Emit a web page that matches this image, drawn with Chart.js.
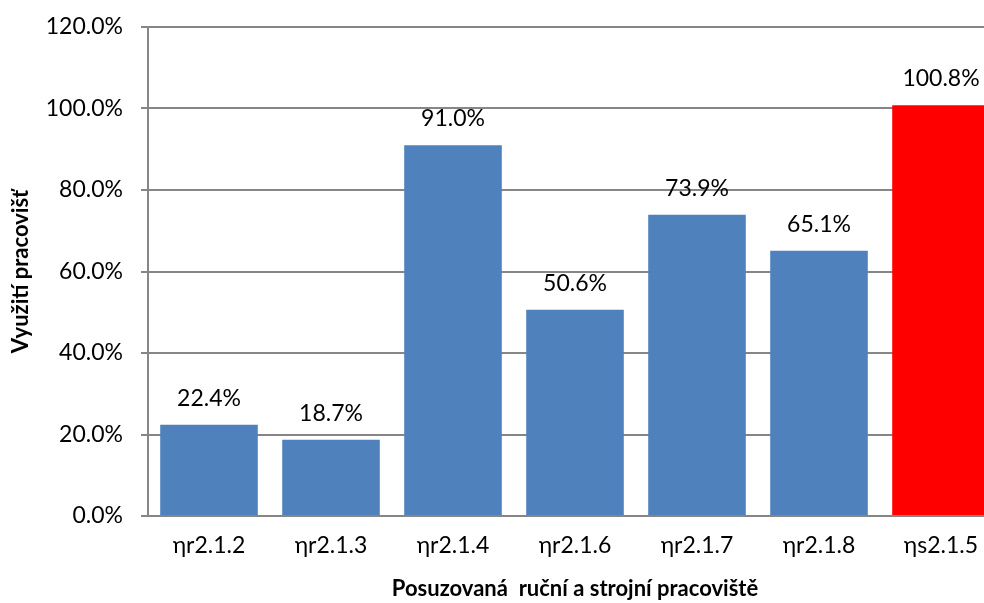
<!DOCTYPE html>
<html>
<head>
<meta charset="utf-8">
<script src="https://cdn.jsdelivr.net/npm/chart.js@4"></script>
<style>
  html, body { margin: 0; padding: 0; background: #fff; overflow: hidden; }
  canvas { display: block; }
</style>
</head>
<body>
<canvas id="myChart" width="1002" height="603"></canvas>
<script>
const categories = ["ηr2.1.2", "ηr2.1.3", "ηr2.1.4", "ηr2.1.6", "ηr2.1.7", "ηr2.1.8", "ηs2.1.5"];
const values = [22.4, 18.7, 91.0, 50.6, 73.9, 65.1, 100.8];
const barColors = ["#4F81BD", "#4F81BD", "#4F81BD", "#4F81BD", "#4F81BD", "#4F81BD", "#FF0000"];

const FONT = "Lato, 'Open Sans', sans-serif";
const ctxBar = document.getElementById("myChart");

// labels above each bar
const valueLabels = {
  id: "valueLabels",
  afterDatasetsDraw(chart) {
    const ctx = chart.ctx;
    const meta = chart.getDatasetMeta(0);
    ctx.save();
    ctx.font = "23px " + FONT;
    ctx.fillStyle = "#000";
    ctx.textAlign = "center";
    ctx.textBaseline = "alphabetic";
    meta.data.forEach((bar, i) => {
      ctx.fillText(values[i].toFixed(1) + "%", bar.x, bar.y - 19);
    });
    ctx.restore();
  },
};

new Chart(ctxBar, {
  type: "bar",
  data: {
    labels: categories,
    datasets: [
      {
        data: values,
        backgroundColor: barColors,
        borderWidth: 0,
        barPercentage: 0.8,
        categoryPercentage: 1,
      },
    ],
  },
  options: {
    responsive: false,
    animation: false,
    layout: { padding: { top: 27, left: 8, right: 0, bottom: 1 } },
    plugins: {
      legend: { display: false },
      tooltip: { enabled: false },
    },
    scales: {
      y: {
        min: 0,
        max: 120,
        afterFit: (scale) => {
          scale.width = 140;
          scale.paddingTop = 0;
          scale.paddingBottom = 0;
        },
        ticks: {
          stepSize: 20,
          padding: 18,
          color: "#000",
          font: { family: FONT, size: 23 },
          callback: (v) => v.toFixed(1) + "%",
        },
        grid: { color: "#868686", lineWidth: 2, tickLength: 7 },
        border: { color: "#868686", width: 2 },
        title: {
          display: true,
          text: "Využití pracovišť",
          color: "#000",
          font: { family: FONT, size: 22, weight: "bold" },
          padding: { top: 0, bottom: 0 },
        },
      },
      x: {
        grid: { display: false, drawTicks: false },
        border: { color: "#868686", width: 2 },
        ticks: {
          padding: 16,
          color: "#000",
          font: { family: FONT, size: 23 },
          maxRotation: 0,
        },
        title: {
          display: true,
          text: "Posuzovaná  ruční a strojní pracoviště",
          color: "#000",
          font: { family: FONT, size: 22, weight: "bold" },
          padding: { top: 0, bottom: 0 },
        },
      },
    },
  },
  plugins: [valueLabels],
});
</script>
</body>
</html>
